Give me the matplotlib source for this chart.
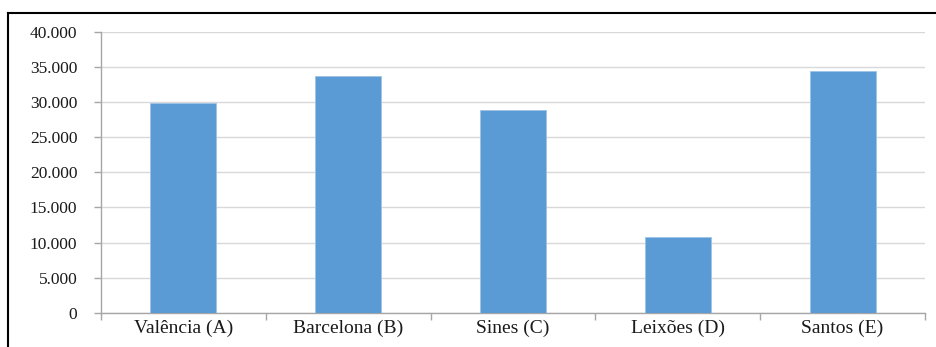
import matplotlib
matplotlib.use("Agg")
import matplotlib.pyplot as plt
from matplotlib.lines import Line2D
from matplotlib.ticker import FuncFormatter, FixedLocator

categories = ["Valência (A)", "Barcelona (B)", "Sines (C)", "Leixões (D)", "Santos (E)"]
values = [29800, 33650, 28800, 10800, 34350]
yticks = [0, 5000, 10000, 15000, 20000, 25000, 30000, 35000, 40000]

W, H = 936, 347
fig = plt.figure(figsize=(W / 100, H / 100), dpi=100)
ax = fig.add_axes([101 / W, 1 - 313 / H, (925 - 101) / W, (313 - 31.5) / H])

x = list(range(len(categories)))
ax.bar(x, values, width=0.4, color="#5B9BD5", edgecolor="#9DC3E6", linewidth=0.6, zorder=3)
ax.set_xlim(-0.5, len(categories) - 0.5)
ax.set_ylim(0, 40000)
ax.set_yticks(yticks)
ax.yaxis.set_major_formatter(FuncFormatter(lambda v, p: "0" if v == 0 else f"{int(v):,}".replace(",", ".")))
ax.set_xticks(x)
ax.set_xticklabels(categories)
ax.xaxis.set_minor_locator(FixedLocator([i + 0.5 for i in range(-1, len(categories))]))
ax.tick_params(axis="x", which="major", length=0, pad=5)
ax.tick_params(axis="x", which="minor", length=5, color="#A6A6A6", width=1)
ax.tick_params(axis="y", length=5, color="#A6A6A6", width=1, pad=12)
ax.grid(axis="y", color="#D9D9D9", linewidth=1, zorder=0)
for s in ["top", "right"]:
    ax.spines[s].set_visible(False)
for s in ["left", "bottom"]:
    ax.spines[s].set_color("#A6A6A6")
    ax.spines[s].set_linewidth(1)
for lab in ax.get_yticklabels():
    lab.set_fontfamily("Liberation Serif")
    lab.set_fontsize(12.5)
    lab.set_color("#1a1a1a")
for lab in ax.get_xticklabels():
    lab.set_fontfamily("Liberation Serif")
    lab.set_fontsize(14)
    lab.set_color("#1a1a1a")

fig.add_artist(Line2D([8 / W, 1], [1 - 13 / H, 1 - 13 / H], color="black", linewidth=1.5, transform=fig.transFigure))
fig.add_artist(Line2D([8 / W, 8 / W], [0, 1 - 13 / H], color="black", linewidth=1.5, transform=fig.transFigure))

fig.savefig("out.png", dpi=100)
